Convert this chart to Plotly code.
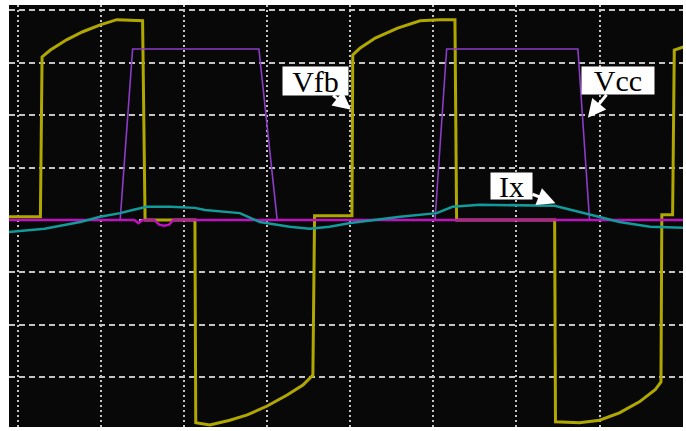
import plotly.graph_objects as go

# Time in divisions, amplitude in divisions
vfb_t = [-0.11, 0.27, 0.29, 0.39, 0.59, 0.78, 0.99, 1.19, 1.50, 1.53, 2.13, 2.14, 2.31, 2.55, 2.76,
         3.00, 3.24, 3.43, 3.55, 3.57, 4.02, 4.03, 4.12, 4.30, 4.57, 4.84, 5.08, 5.26, 5.28, 6.46,
         6.47, 6.76, 7.00, 7.24, 7.48, 7.67, 7.74, 7.75, 7.88, 7.90, 8.01]
vfb_v = [0.06, 0.06, 3.11, 3.24, 3.44, 3.59, 3.72, 3.82, 3.80, 0.0, 0.0, -3.87, -3.91, -3.82, -3.72,
         -3.55, -3.34, -3.15, -2.96, 0.08, 0.08, 3.15, 3.28, 3.47, 3.66, 3.80, 3.82, 3.82, 0.0, 0.0,
         -3.85, -3.87, -3.82, -3.68, -3.47, -3.24, -3.09, 0.10, 0.10, 3.24, 3.30]

vcc_t = [-0.11, 1.23, 1.38, 2.90, 3.12, 5.02, 5.16, 6.74, 6.88, 8.01]
vcc_v = [0.0, 0.0, 3.26, 3.26, 0.0, 0.0, 3.26, 3.26, 0.0, 0.0]

base_t = [-0.11, 1.40, 1.45, 1.50, 1.64, 1.70, 1.76, 1.82, 1.87, 8.01]
base_v = [0.0, 0.0, -0.06, 0.0, 0.0, -0.09, -0.11, -0.09, 0.0, 0.0]

ix_t = [-0.11, 0.32, 0.51, 0.75, 0.99, 1.23, 1.38, 1.55, 1.83, 2.13, 2.25, 2.67, 2.91, 3.27, 3.51,
        3.75, 4.00, 4.36, 4.60, 5.04, 5.23, 5.56, 6.46, 6.76, 7.00, 7.24, 7.61, 8.01]
ix_v = [-0.23, -0.17, -0.11, -0.04, 0.06, 0.13, 0.19, 0.25, 0.25, 0.23, 0.19, 0.13, -0.04, -0.13, -0.17,
        -0.13, -0.06, 0.02, 0.06, 0.13, 0.25, 0.29, 0.27, 0.15, 0.06, -0.04, -0.13, -0.15]

labels = ["Vfb", "Vcc", "Ix"]
label_t = [4.01, 6.86, 6.47]
label_v = [2.10, 1.95, 0.32]

fig = go.Figure()
fig.add_trace(go.Scatter(x=vfb_t, y=vfb_v, mode="lines", line=dict(color="#b0a800", width=3)))
fig.add_trace(go.Scatter(x=vcc_t, y=vcc_v, mode="lines", line=dict(color="#8c3cc8", width=1.6)))
fig.add_trace(go.Scatter(x=base_t, y=base_v, mode="lines", line=dict(color="#c010c0", width=2.5)))
fig.add_trace(go.Scatter(x=ix_t, y=ix_v, mode="lines", line=dict(color="#139a9a", width=2.5)))

offsets = [(-36, -29, 61, 24), (30, -37, 68, 23), (-44, -17, 37, 22)]
for lab, t, v, (ax, ay, w, h) in zip(labels, label_t, label_v, offsets):
    fig.add_annotation(x=t, y=v, ax=ax, ay=ay, text=lab, showarrow=True,
                       arrowcolor="white", arrowhead=2, arrowwidth=3, arrowsize=1.2,
                       bgcolor="white", borderpad=2, width=w, height=h,
                       font=dict(family="Liberation Serif", size=30, color="black"))

grid_common = dict(showticklabels=False, ticks="", zeroline=False, showline=False,
                   gridcolor="#c4c4c4", gridwidth=2, dtick=1, tick0=0)
fig.update_xaxes(range=[-0.108, 8.005], griddash="2px,3px", **grid_common)
fig.update_yaxes(range=[-3.95, 4.10], griddash="6px,4px", **grid_common)

fig.update_layout(width=686, height=431, margin=dict(l=9, r=3, t=5, b=4),
                  paper_bgcolor="white", plot_bgcolor="#080808", showlegend=False)

fig.write_html("out.html", config={"displayModeBar": False},
               post_script="document.body.style.margin='0px';")
